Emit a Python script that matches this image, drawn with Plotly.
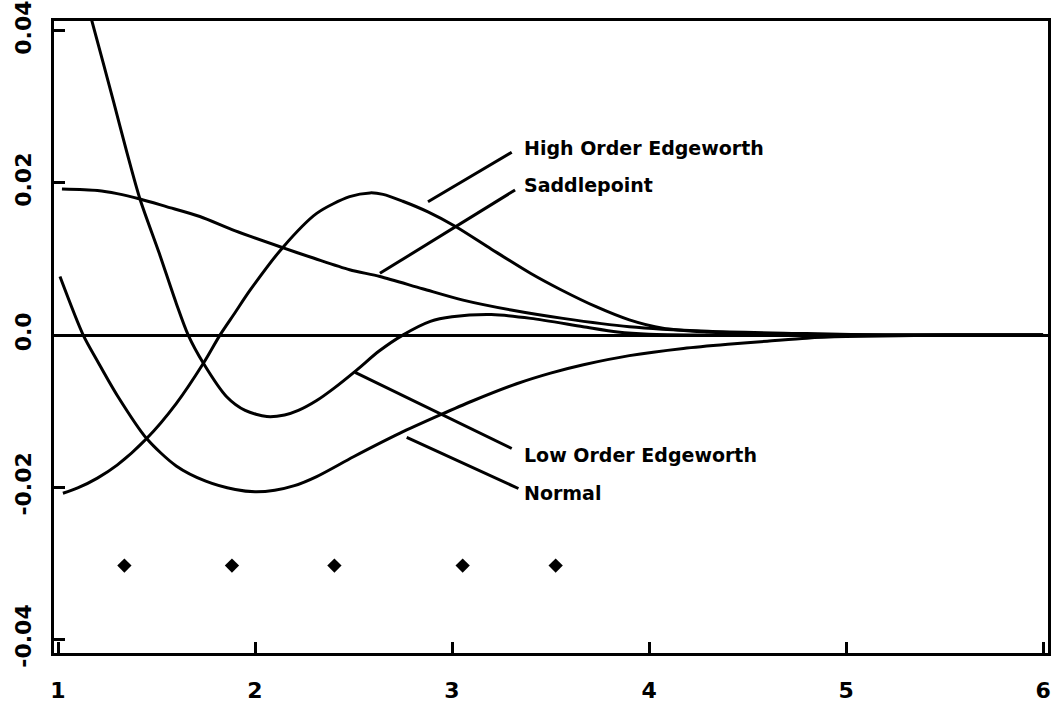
import plotly.graph_objects as go

# Error curves for four approximations, plotted against x
normal_x = [1.01, 1.128, 1.2, 1.3, 1.45, 1.6, 1.75, 1.9, 2.0, 2.1, 2.2, 2.313, 2.5, 2.736, 2.94, 3.1,
            3.328, 3.5, 3.667, 3.9, 4.174, 4.4, 4.6, 4.8, 5.0, 5.5, 6.0]
normal_y = [0.0077, 0.0, -0.0034, -0.0079, -0.0136, -0.0172, -0.0192, -0.0203, -0.0206, -0.0204, -0.0198,
            -0.0186, -0.016, -0.0129, -0.0105, -0.0087, -0.0064, -0.005, -0.0039, -0.0027, -0.00175,
            -0.0012, -0.0008, -0.0004, -0.0002, 0.0, 0.0]

low_edge_x = [1.12, 1.171, 1.284, 1.35, 1.416, 1.514, 1.6, 1.661, 1.738, 1.856, 1.95, 2.06, 2.15, 2.22,
              2.313, 2.4, 2.516, 2.63, 2.75, 2.89, 3.0, 3.2, 3.4, 3.665, 3.84, 4.0, 4.3, 5.0, 6.0]
low_edge_y = [0.046, 0.0414, 0.0305, 0.024, 0.0179, 0.01075, 0.0042, 0.0, -0.0037, -0.0081, -0.0099,
              -0.0107, -0.0105, -0.0099, -0.0086, -0.007, -0.0046, -0.0021, 0.0, 0.0018, 0.0024,
              0.0027, 0.0022, 0.0011, 0.0004, 0.0001, 0.0, 0.0, 0.0]

high_edge_x = [1.025, 1.1, 1.2, 1.3, 1.45, 1.6, 1.738, 1.822, 1.9, 1.975, 2.14, 2.313, 2.48, 2.584, 2.65,
               2.75, 2.878, 3.02, 3.2, 3.4, 3.55, 3.734, 3.9, 4.07, 4.3, 4.6, 5.0, 6.0]
high_edge_y = [-0.0208, -0.0201, -0.0188, -0.0171, -0.0136, -0.009, -0.0037, 0.0, 0.003, 0.0059, 0.0115,
               0.016, 0.0182, 0.0187, 0.0185, 0.0176, 0.0162, 0.01425, 0.0113, 0.0081, 0.006, 0.0037,
               0.002, 0.0009, 0.0004, 0.0001, 0.0, 0.0]

saddle_x = [1.02, 1.2, 1.3, 1.416, 1.55, 1.72, 1.9, 2.14, 2.3, 2.48, 2.634, 2.85, 3.056, 3.3, 3.563,
            3.9, 4.3, 4.8, 5.2, 6.0]
saddle_y = [0.0192, 0.019, 0.0186, 0.0179, 0.0169, 0.0156, 0.0137, 0.0115, 0.0101, 0.0086, 0.0077,
            0.0061, 0.0046, 0.0033, 0.0022, 0.0011, 0.0005, 0.0002, 0.0, 0.0]

# Diamond markers along the bottom
marker_x = [1.337, 1.883, 2.403, 3.054, 3.526]
marker_y = [-0.0303, -0.0303, -0.0303, -0.0303, -0.0303]

x_ticks = [1, 2, 3, 4, 5, 6]
x_tick_text = ["1", "2", "3", "4", "5", "6"]
y_ticks = [0.04, 0.02, 0.0, -0.02, -0.04]
y_tick_text = ["0.04", "0.02", "0.0", "-0.02", "-0.04"]

# Curve labels: text anchor, then leader line (curve end -> label end)
labels = ["High Order Edgeworth", "Saddlepoint", "Low Order Edgeworth", "Normal"]
label_x = [3.354, 3.354, 3.354, 3.354]
label_y = [0.0246, 0.01974, -0.01579, -0.02079]
leader_x0 = [2.878, 2.634, 2.508, 2.770]
leader_y0 = [0.01754, 0.00812, -0.00491, -0.01346]
leader_x1 = [3.303, 3.320, 3.303, 3.337]
leader_y1 = [0.02404, 0.01908, -0.01491, -0.02017]

FONT = "DejaVu Sans"
line_style = dict(color="black", width=3, shape="spline", smoothing=0.8)

fig = go.Figure()
for xs, ys, name in [
    (normal_x, normal_y, "Normal"),
    (low_edge_x, low_edge_y, "Low Order Edgeworth"),
    (high_edge_x, high_edge_y, "High Order Edgeworth"),
    (saddle_x, saddle_y, "Saddlepoint"),
]:
    fig.add_trace(go.Scatter(x=xs, y=ys, mode="lines", line=line_style,
                             name=name, showlegend=False, hoverinfo="skip"))

fig.add_trace(go.Scatter(x=marker_x, y=marker_y, mode="markers",
                         marker=dict(symbol="diamond", size=11, color="black"),
                         showlegend=False, hoverinfo="skip"))

for i, text in enumerate(labels):
    fig.add_shape(type="line", x0=leader_x0[i], y0=leader_y0[i],
                  x1=leader_x1[i], y1=leader_y1[i],
                  line=dict(color="black", width=3))
    fig.add_annotation(x=label_x[i], y=label_y[i], text=text, showarrow=False,
                       xanchor="left", yanchor="middle",
                       font=dict(family=FONT, size=19, color="black", weight="bold"))

fig.update_layout(
    width=1051, height=703,
    margin=dict(l=54, r=3, t=21, b=50),
    paper_bgcolor="white", plot_bgcolor="white",
    showlegend=False,
)
fig.update_xaxes(
    range=[0.9797, 6.025], showgrid=False, zeroline=False, automargin=False,
    showline=True, linecolor="black", linewidth=3, mirror=True,
    ticks="inside", ticklen=11, tickwidth=3, tickcolor="black",
    tickvals=x_ticks, ticktext=x_tick_text, ticklabelstandoff=16,
    tickfont=dict(family=FONT, size=22, color="black", weight="bold"),
)
fig.update_yaxes(
    range=[-0.0418, 0.0413], showgrid=False, automargin=False,
    zeroline=True, zerolinecolor="black", zerolinewidth=3,
    showline=True, linecolor="black", linewidth=3, mirror=True,
    ticks="inside", ticklen=11, tickwidth=3, tickcolor="black",
    tickvals=y_ticks, ticktext=y_tick_text, tickangle=-90, ticklabelstandoff=11,
    tickfont=dict(family=FONT, size=22, color="black", weight="bold"),
)

fig.write_html("out.html")
